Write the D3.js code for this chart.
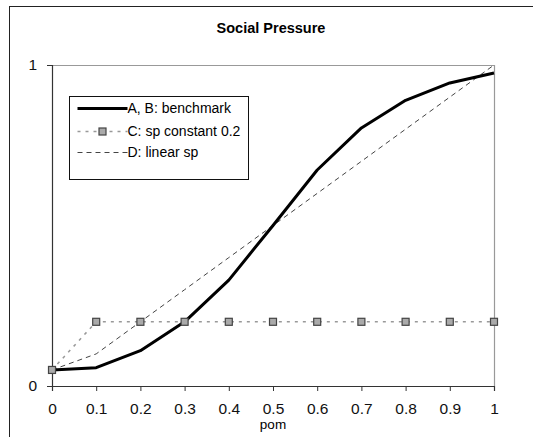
<!DOCTYPE html>
<html>
<head>
<meta charset="utf-8">
<script src="https://cdn.jsdelivr.net/npm/d3@7"></script>
<style>
  body { margin: 0; background: #fff; }
  text { font-family: "Liberation Sans", Arial, sans-serif; }
</style>
</head>
<body>
<div id="container"></div>
<script>
const pomValues = [0, 0.1, 0.2, 0.3, 0.4, 0.5, 0.6, 0.7, 0.8, 0.9, 1];
const benchmark = [0.05, 0.057, 0.11, 0.2, 0.33, 0.5, 0.673, 0.804, 0.89, 0.944, 0.975];
const spConstant = [0.05, 0.2, 0.2, 0.2, 0.2, 0.2, 0.2, 0.2, 0.2, 0.2, 0.2];
const linearSp = [0.05, 0.1, 0.2, 0.3, 0.4, 0.5, 0.6, 0.7, 0.8, 0.9, 1];
const xTicks = [0, 0.1, 0.2, 0.3, 0.4, 0.5, 0.6, 0.7, 0.8, 0.9, 1];
const yTicks = [0, 1];
const legendLabels = ['A, B: benchmark', 'C: sp constant 0.2', 'D: linear sp'];

const W = 533, H = 437;
const plot = { left: 52, right: 494, top: 65, bottom: 386 };

const svg = d3.select('#container').append('svg')
  .attr('width', W)
  .attr('height', H);

// outer chart frame (runs off the right and bottom of the picture)
svg.append('rect')
  .attr('x', 9.5).attr('y', 6.5)
  .attr('width', 560).attr('height', 460)
  .attr('fill', 'none').attr('stroke', '#222').attr('stroke-width', 1);

svg.append('text')
  .attr('x', 271).attr('y', 33)
  .attr('text-anchor', 'middle')
  .attr('font-size', 14.5).attr('font-weight', 'bold')
  .text('Social Pressure');

const x = d3.scaleLinear().domain([0, 1]).range([plot.left, plot.right]);
const y = d3.scaleLinear().domain([0, 1]).range([plot.bottom, plot.top]);

// grey top / right border of plot area
svg.append('path')
  .attr('d', `M${plot.left},${plot.top + 0.5}H${plot.right + 0.5}V${plot.bottom}`)
  .attr('fill', 'none').attr('stroke', '#999').attr('stroke-width', 1.2);

const fmt = d3.format('');
const xAxis = svg.append('g')
  .attr('transform', `translate(0,${plot.bottom})`)
  .call(d3.axisBottom(x).tickValues(xTicks).tickSize(5).tickPadding(12).tickFormat(fmt));
const yAxis = svg.append('g')
  .attr('transform', `translate(${plot.left},0)`)
  .call(d3.axisLeft(y).tickValues(yTicks).tickSize(5).tickPadding(10).tickFormat(fmt));

[xAxis, yAxis].forEach(a => {
  a.select('.domain').attr('stroke', '#333').attr('stroke-width', 1.2);
  a.selectAll('.tick line').attr('stroke', '#333');
  a.selectAll('.tick text').attr('font-size', 15.5).attr('fill', '#111')
    .style('font-family', '"Liberation Sans", Arial, sans-serif');
});

svg.append('text')
  .attr('x', x(0.5)).attr('y', 429)
  .attr('text-anchor', 'middle')
  .attr('font-size', 13.5)
  .text('pom');

const line = d3.line().x((d, i) => x(pomValues[i])).y(d => y(d));

svg.append('path')
  .datum(linearSp)
  .attr('d', line)
  .attr('fill', 'none').attr('stroke', '#444').attr('stroke-width', 1)
  .attr('stroke-dasharray', '5,4');

svg.append('path')
  .datum(spConstant)
  .attr('d', line)
  .attr('fill', 'none').attr('stroke', '#999').attr('stroke-width', 1.5)
  .attr('stroke-dasharray', '3,5');

svg.append('path')
  .datum(benchmark)
  .attr('d', line)
  .attr('fill', 'none').attr('stroke', '#000').attr('stroke-width', 3)
  .attr('stroke-linejoin', 'round');

svg.append('g').selectAll('rect')
  .data(spConstant)
  .join('rect')
  .attr('x', (d, i) => x(pomValues[i]) - 3.5)
  .attr('y', d => y(d) - 3.5)
  .attr('width', 7).attr('height', 7)
  .attr('fill', '#aaa').attr('stroke', '#444').attr('stroke-width', 1.2);

// legend
const lg = svg.append('g').attr('transform', 'translate(69.5,96.5)');
lg.append('rect')
  .attr('width', 179).attr('height', 83)
  .attr('fill', '#fff').attr('stroke', '#111').attr('stroke-width', 1);

const rowY = [12, 35, 56];
legendLabels.forEach((label, i) => {
  const g = lg.append('g').attr('transform', `translate(0,${rowY[i]})`);
  const ln = g.append('line').attr('x1', 8).attr('x2', 58).attr('y1', 0).attr('y2', 0)
    .attr('fill', 'none');
  if (i === 0) {
    ln.attr('stroke', '#000').attr('stroke-width', 3);
  } else if (i === 1) {
    ln.attr('stroke', '#999').attr('stroke-width', 1.5).attr('stroke-dasharray', '3,5');
    g.append('rect').attr('x', 29.5).attr('y', -3.5).attr('width', 7).attr('height', 7)
      .attr('fill', '#aaa').attr('stroke', '#444').attr('stroke-width', 1.2);
  } else {
    ln.attr('stroke', '#444').attr('stroke-width', 1).attr('stroke-dasharray', '5,4');
  }
  g.append('text')
    .attr('x', 58).attr('y', 0).attr('dy', '0.35em')
    .attr('font-size', 14)
    .text(label);
});
</script>
</body>
</html>
